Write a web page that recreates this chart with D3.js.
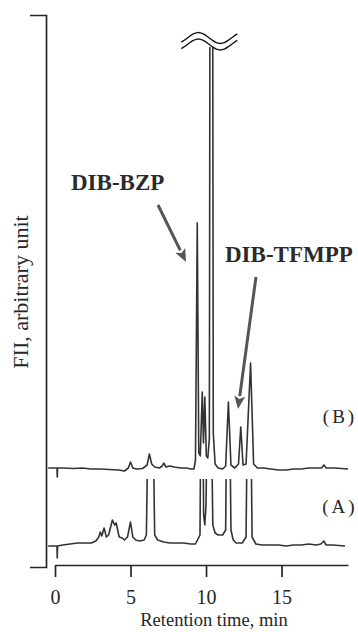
<!DOCTYPE html>
<html>
<head>
<meta charset="utf-8">
<script src="https://cdn.jsdelivr.net/npm/d3@7"></script>
<style>
    body { margin: 0; background: #fff; }
    svg { display: block; font-family: "Liberation Serif", "Times New Roman", serif; }
</style>
</head>
<body>
<svg id="chart" width="358" height="632"></svg>
<script>
// Retention time (min) and response above each trace's own baseline (arbitrary unit)
const timeB = [-0.45, 0.13, 0.15, 0.17, 0.6, 1.2, 1.8, 2.4, 3.0, 3.6, 4.2, 4.6, 4.85, 5.0, 5.15, 5.4, 5.8,
    6.1, 6.25, 6.4, 6.6, 6.9, 7.1, 7.2, 7.35, 7.6, 7.9, 8.3, 8.7, 9.0, 9.2, 9.3, 9.42, 9.52, 9.62, 9.75,
    9.83, 9.92, 10.02, 10.12, 10.22, 10.35, 10.48, 10.6, 10.8, 11.1, 11.3, 11.48, 11.65, 11.9, 12.15,
    12.3, 12.45, 12.65, 12.95, 13.15, 13.4, 13.8, 14.3, 14.8, 15.3, 15.8, 16.3, 16.8, 17.3, 17.65, 17.8,
    17.95, 18.5, 19.4];
const signalB = [0, 0, -9, 0, 0, -0.5, 0, -1, -1, -1.5, -2, -3, 0, 6, 0, -1, -0.5,
    3, 14, 4, 1, 0, 2, 5, 1, 2, 1, 0, 0, -1, -1, 8, 245, 15, 12, 76,
    25, 71, 12, 10, 30, 1500, 35, 4, 0, -1, 2, 66, 3, 0, 4,
    41, 3, 4, 105, 4, 0, 0, -1, -2, -2, -1, -1, 0, 0, 0, 3,
    0, 0, -1];

const timeA = [-0.45, 0.13, 0.15, 0.17, 0.5, 1.0, 1.5, 2.0, 2.4, 2.7, 2.9, 3.0, 3.1, 3.25, 3.4, 3.55,
    3.8, 3.95, 4.05, 4.25, 4.45, 4.6, 4.8, 5.0, 5.15, 5.35, 5.6, 5.9, 6.05, 6.33, 6.6, 6.8, 7.2, 7.6,
    8.0, 8.5, 9.0, 9.3, 9.6, 9.73, 9.84, 9.92, 10.0, 10.2, 10.45, 10.6, 10.8, 11.1, 11.3, 11.45, 11.65,
    11.8, 12.0, 12.4, 12.65, 12.85, 13.05, 13.3, 13.7, 14.2, 14.8, 15.3, 15.8, 16.3, 16.8, 17.3, 17.6,
    17.8, 17.95, 18.4, 19.2];
const signalA = [-1, -1, -13, -1, 0, 1, 2, 2, 2, 4, 8, 13, 9, 17, 8, 10,
    25, 20, 22, 8, 7, 5, 8, 23, 8, 5, 4, 5, 10, 300, 10, 5, 3, 2,
    2, 2, 1, 1, 10, 300, 30, 20, 40, 300, 20, 12, 10, 10, 15, 300, 15,
    5, 2, 2, 8, 300, 8, 1, 0, 0, 0, -1, 0, 0, 1, 0, 1,
    4, 0, 0, -1];

const xTicks = [0, 5, 10, 15];
const traceNames = ["(B)", "(A)"];
const traceOffsets = [77, 0];
const peakLabels = ["DIB-BZP", "DIB-TFMPP"];

const svg = d3.select("#chart");
const ink = "#262626";

const x = d3.scaleLinear().domain([0, 19.4]).range([55, 348]);
const y = d3.scaleLinear().domain([0, 500]).range([545, 45]);

// clip each trace: A is cut just under trace B, B at the axis break
const defs = svg.append("defs");
defs.append("clipPath").attr("id", "clipB")
    .append("rect").attr("x", 0).attr("y", y(498)).attr("width", 358).attr("height", 632);
defs.append("clipPath").attr("id", "clipA")
    .append("rect").attr("x", 0).attr("y", y(66)).attr("width", 358).attr("height", 632);

const traces = [
    {name: traceNames[0], offset: traceOffsets[0], t: timeB, v: signalB, clip: "clipB"},
    {name: traceNames[1], offset: traceOffsets[1], t: timeA, v: signalA, clip: "clipA"}
];

const line = d3.line()
    .x(d => x(d[0]))
    .y(d => y(d[1]));

traces.forEach(tr => {
    const pts = tr.t.map((t, i) => [t, tr.v[i] + tr.offset]);
    svg.append("path")
        .datum(pts)
        .attr("clip-path", "url(#" + tr.clip + ")")
        .attr("d", line)
        .attr("fill", "none")
        .attr("stroke", "#333")
        .attr("stroke-width", 1.6)
        .attr("stroke-linejoin", "round");
});

// trace labels
svg.selectAll(".trace-label")
    .data(traces)
    .enter()
    .append("text")
    .attr("class", "trace-label")
    .attr("x", 340)
    .attr("y", d => y(d.offset) - (d.offset ? 45 : 32))
    .attr("text-anchor", "middle")
    .attr("font-size", 19)
    .attr("letter-spacing", 3)
    .attr("fill", ink)
    .text(d => d.name);

// axis break over the off-scale peak
const cx = x(10.35);
[y(498) - 9, y(498) - 2.5].forEach(base => {
    const pts = d3.range(-30, 28, 2).map(dx => [cx + dx, base + 5.5 * Math.cos((dx + 13) / 44 * 2 * Math.PI + Math.PI)]);
    svg.append("path")
        .attr("d", d3.line().curve(d3.curveBasis)(pts))
        .attr("fill", "none")
        .attr("stroke", "#111")
        .attr("stroke-width", 1.4);
});

// peak annotations
const notes = [
    {text: peakLabels[0], tx: 71, ty: 190, from: [158, 205], to: [186, 262]},
    {text: peakLabels[1], tx: 225, ty: 262, from: [256, 277], to: [238, 409]}
];
notes.forEach(n => {
    svg.append("text")
        .attr("x", n.tx)
        .attr("y", n.ty)
        .attr("font-size", 23)
        .attr("font-weight", "bold")
        .attr("fill", "#2b2b2b")
        .text(n.text);

    const dx = n.to[0] - n.from[0], dy = n.to[1] - n.from[1];
    const len = Math.sqrt(dx * dx + dy * dy);
    const ux = dx / len, uy = dy / len;
    const headL = 13, headW = 5.5;
    const bx = n.to[0] - ux * headL, by = n.to[1] - uy * headL;
    svg.append("line")
        .attr("x1", n.from[0]).attr("y1", n.from[1])
        .attr("x2", bx).attr("y2", by)
        .attr("stroke", "#555")
        .attr("stroke-width", 3);
    svg.append("path")
        .attr("d", "M" + n.to[0] + "," + n.to[1] +
            "L" + (bx - uy * headW) + "," + (by + ux * headW) +
            "L" + (bx + ux * 3) + "," + (by + uy * 3) +
            "L" + (bx + uy * headW) + "," + (by - ux * headW) + "Z")
        .attr("fill", "#555");
});

// x axis
const xAxis = svg.append("g")
    .attr("transform", "translate(0,565)")
    .call(d3.axisBottom(x).tickValues(xTicks).tickSize(12).tickSizeOuter(0).tickPadding(13));
xAxis.attr("font-family", null).attr("font-size", 20);
xAxis.selectAll("path, line").attr("stroke", ink).attr("stroke-width", 1.7);
xAxis.selectAll("text").attr("fill", ink);

// y axis: plain bracket, no ticks
const yFrame = d3.scaleLinear().domain([0, 1]).range([567, 15]);
const yAxis = svg.append("g")
    .attr("transform", "translate(46,0)")
    .call(d3.axisLeft(yFrame).tickValues([]).tickSizeOuter(16));
yAxis.select(".domain").attr("stroke", ink).attr("stroke-width", 1.7);

svg.append("text")
    .attr("x", 214)
    .attr("y", 626)
    .attr("text-anchor", "middle")
    .attr("font-size", 18.5)
    .attr("fill", ink)
    .text("Retention time, min");

svg.append("text")
    .attr("transform", "translate(28,292) rotate(-90)")
    .attr("text-anchor", "middle")
    .attr("font-size", 22)
    .attr("fill", ink)
    .text("FII, arbitrary unit");
</script>
</body>
</html>
